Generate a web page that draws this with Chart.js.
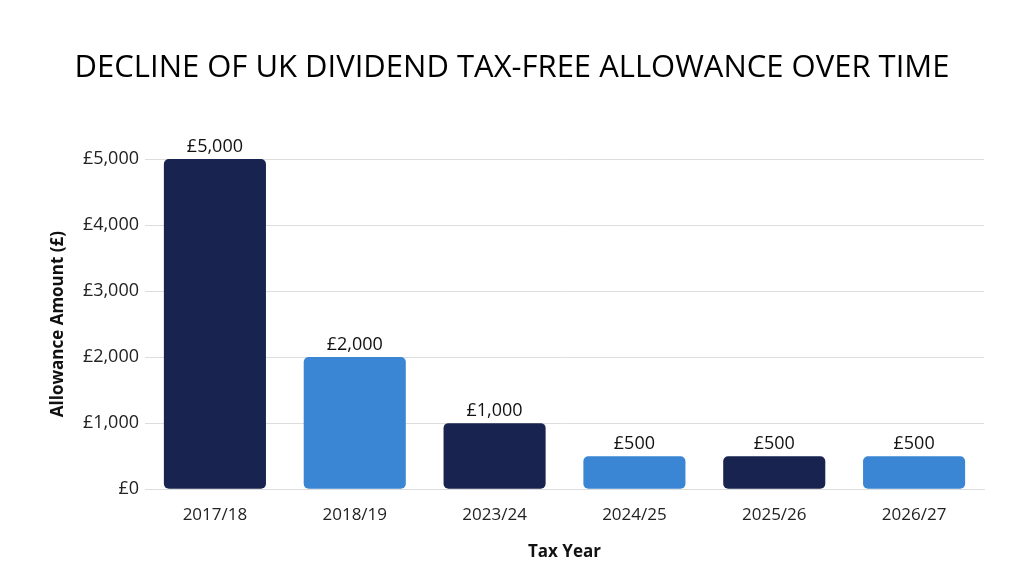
<!DOCTYPE html>
<html><head><meta charset="utf-8">
<script src="https://cdn.jsdelivr.net/npm/chart.js@4/dist/chart.umd.min.js"></script>
<style>html,body{margin:0;background:#fff}#w{width:1024px;height:572px}</style>
</head><body><div id="w"><canvas id="c"></canvas></div>
<script>
const categories=["2017/18","2018/19","2023/24","2024/25","2025/26","2026/27"];
const values=[5000,2000,1000,500,500,500];
const barColors=["#19234f","#3a86d4","#19234f","#3a86d4","#19234f","#3a86d4"];
const fmt=v=>"£"+v.toLocaleString("en-GB");
const labelsPlugin={id:"lbl",afterDatasetsDraw(ch){const c=ch.ctx;const m=ch.getDatasetMeta(0);c.save();c.font="18px 'Open Sans'";c.fillStyle="#111";c.textAlign="center";c.textBaseline="bottom";
m.data.forEach((b,i)=>c.fillText(fmt(values[i]),b.x,b.y-3));
c.font="500 31px 'Open Sans'";c.fillStyle="#000";c.textBaseline="middle";c.fillText("DECLINE OF UK DIVIDEND TAX-FREE ALLOWANCE OVER TIME",512,68);c.restore();}};
new Chart(document.getElementById("c"),{type:"bar",data:{labels:categories,datasets:[{data:values,backgroundColor:barColors,borderRadius:5,borderSkipped:false,barPercentage:0.73,categoryPercentage:1}]},
options:{responsive:true,maintainAspectRatio:false,animation:false,layout:{padding:{top:159,right:40,left:44,bottom:6}},
plugins:{legend:{display:false},tooltip:{enabled:false}},
scales:{y:{min:0,max:5000,ticks:{stepSize:1000,callback:v=>fmt(v),color:"#222",font:{size:18,family:"'Open Sans'"},padding:6},grid:{color:"#dddddd",drawTicks:false},border:{display:false},
title:{display:true,text:"Allowance Amount (£)",color:"#111",font:{size:17,weight:"bold",family:"'Open Sans'"}},afterFit(s){s.width=101;}},
x:{ticks:{color:"#222",font:{size:17,family:"'Open Sans'"},padding:8},grid:{display:false},border:{color:"#dddddd"},
title:{display:true,text:"Tax Year",color:"#111",font:{size:17,weight:"bold",family:"'Open Sans'"},padding:{top:8}}}}},plugins:[labelsPlugin]});
</script></body></html>
